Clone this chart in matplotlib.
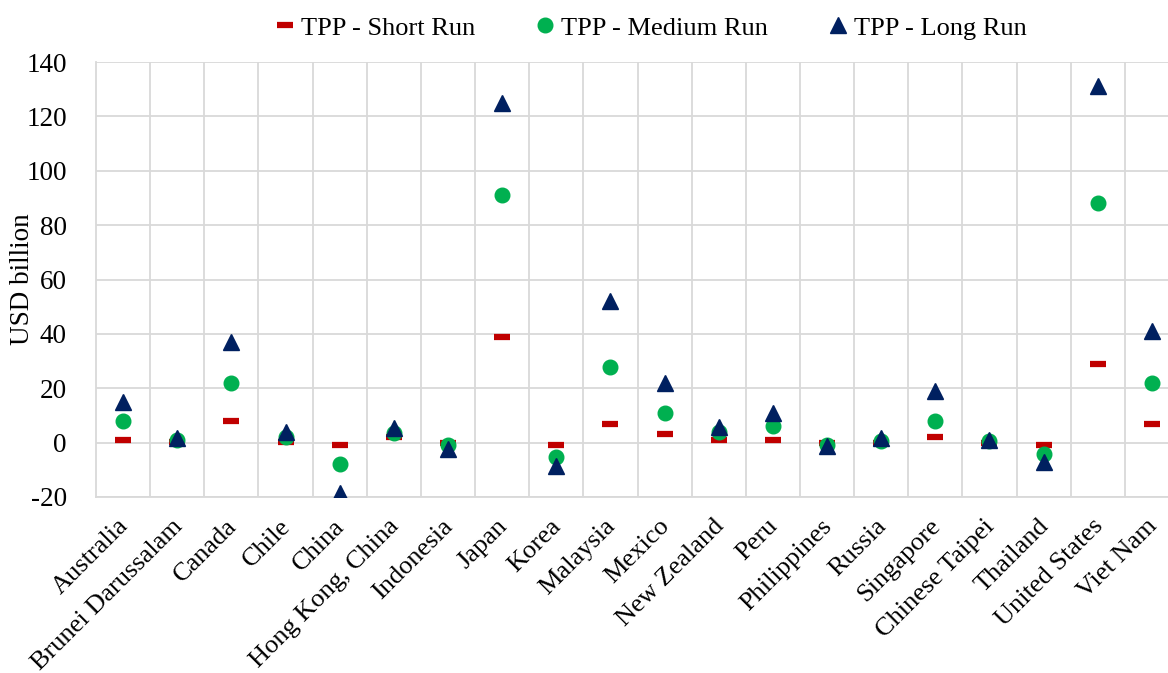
import numpy as np
import matplotlib
matplotlib.use("Agg")
import matplotlib.pyplot as plt
from matplotlib.transforms import ScaledTranslation

plt.rcParams['font.family'] = ['Liberation Serif', 'DejaVu Serif']

# datos (USD billion)
paises = ['Australia', 'Brunei Darussalam', 'Canada', 'Chile', 'China',
          'Hong Kong, China', 'Indonesia', 'Japan', 'Korea', 'Malaysia',
          'Mexico', 'New Zealand', 'Peru', 'Philippines', 'Russia',
          'Singapore', 'Chinese Taipei', 'Thailand', 'United States', 'Viet Nam']
corto = [1, 0.2, 8, 0.3, -1, 2, -0.3, 39, -1, 7,
         3, 1, 1, -0.2, 0, 2, 0, -1, 29, 7]
medio = [8, 1, 22, 2, -8, 3.7, -0.9, 91, -5.4, 28,
         11, 4, 6, -0.9, 0.7, 8, 0.7, -4, 88, 22]
largo = [15, 1.8, 37, 4, -18.5, 5.5, -2.3, 125, -8.5, 52,
         22, 5.9, 11, -1.3, 1.6, 19, 0.8, -7.2, 131, 41]
yticks = [-20, 0, 20, 40, 60, 80, 100, 120, 140]

fig = plt.figure(figsize=(11.68, 6.73), dpi=100)
ax = fig.add_axes([96/1168, 1-497/673, 1083/1168, 435/673])

x = np.arange(len(paises))
ax.plot(x, corto, ls='none', marker='_', ms=12, mew=4.5, color='#C00000',
        label='TPP - Short Run', zorder=3)
ax.plot(x, medio, ls='none', marker='o', ms=10.5, color='#00B050',
        label='TPP - Medium Run', zorder=4)
ax.plot(x, largo, ls='none', marker='^', ms=11, color='#002060',
        label='TPP - Long Run', zorder=5)

ax.set_xlim(-0.5, len(paises)-0.5)
ax.set_ylim(-20, 140)
ax.set_yticks(yticks)
ax.set_yticklabels([str(v) for v in yticks], fontsize=19.5)
ax.set_xticks(x)
ax.set_xticklabels(paises, fontsize=19, rotation=45, ha='right',
                   rotation_mode='anchor')
ax.set_xticks(x[:-1] + 0.5, minor=True)
ax.tick_params(axis='both', which='both', length=0)
ax.tick_params(axis='x', pad=13)
ax.tick_params(axis='y', pad=21)
# correr etiquetas un poco a la izquierda
desplaza = ScaledTranslation(-6/100, 0, fig.dpi_scale_trans)
for lab in ax.get_xticklabels():
    lab.set_transform(lab.get_transform() + desplaza)
ax.grid(True, axis='y', which='major', color='#D9D9D9', lw=1.3)
ax.grid(True, axis='x', which='minor', color='#D9D9D9', lw=1.3)
ax.grid(False, axis='x', which='major')
for s in ['top', 'right']:
    ax.spines[s].set_visible(False)
for s in ['left', 'bottom']:
    ax.spines[s].set_color('#D9D9D9')
    ax.spines[s].set_linewidth(1.3)
ax.set_ylabel('USD billion', fontsize=19.5)
ax.yaxis.set_label_coords(-0.056, 0.5)

fig.legend(loc='center', bbox_to_anchor=(650/1168, 1-28/673), ncol=3,
           frameon=False, fontsize=19, handletextpad=0.15, columnspacing=2.2,
           handlelength=0.9)

plt.savefig('out.png', dpi=100)
